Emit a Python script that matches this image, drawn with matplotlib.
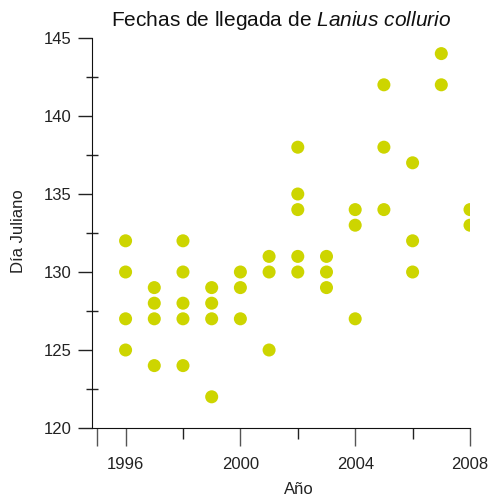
import matplotlib
matplotlib.use("Agg")
import matplotlib.pyplot as plt
from matplotlib.ticker import FixedLocator, FixedFormatter

# ------------------ datos ------------------
anios = [1996, 1996, 1996, 1996,
         1997, 1997, 1997, 1997,
         1998, 1998, 1998, 1998, 1998,
         1999, 1999, 1999, 1999,
         2000, 2000, 2000,
         2001, 2001, 2001,
         2002, 2002, 2002, 2002, 2002,
         2003, 2003, 2003,
         2004, 2004, 2004,
         2005, 2005, 2005,
         2006, 2006, 2006,
         2007, 2007,
         2008, 2008]
dia_juliano = [132, 130, 127, 125,
               129, 128, 127, 124,
               132, 130, 128, 127, 124,
               129, 128, 127, 122,
               130, 129, 127,
               131, 130, 125,
               138, 135, 134, 131, 130,
               131, 130, 129,
               134, 133, 127,
               142, 138, 134,
               137, 132, 130,
               144, 142,
               134, 133]

x_mayores = [1995, 1996, 2000, 2004, 2008]
x_etiquetas = ["", "1996", "2000", "2004", "2008"]
x_menores = [1998, 2002, 2006]
y_mayores = [120, 125, 130, 135, 140, 145]
y_menores = [122.5, 127.5, 132.5, 137.5, 142.5]

COLOR_PUNTO = "#cdd500"
# ---------------------------------------------------------------

plt.rcParams["font.family"] = ["Liberation Sans", "DejaVu Sans"]
plt.rcParams["mathtext.fontset"] = "custom"
plt.rcParams["mathtext.rm"] = "Liberation Sans"
plt.rcParams["mathtext.it"] = "Liberation Sans:italic"

W, H = 491, 496
fig = plt.figure(figsize=(W / 100, H / 100), dpi=100)
ax = fig.add_axes([92 / W, 1 - 428 / H, (470 - 92) / W, (428 - 38) / H])

ax.scatter(anios, dia_juliano, s=88, c=COLOR_PUNTO, edgecolors="none", zorder=3)

ax.set_xlim(1994.83, 2008)
ax.set_ylim(120, 145)

ax.spines["top"].set_visible(False)
ax.spines["right"].set_visible(False)
ax.spines["left"].set_color("#111111")
ax.spines["bottom"].set_color("#111111")

ax.xaxis.set_major_locator(FixedLocator(x_mayores))
ax.xaxis.set_major_formatter(FixedFormatter(x_etiquetas))
ax.xaxis.set_minor_locator(FixedLocator(x_menores))
ax.yaxis.set_major_locator(FixedLocator(y_mayores))
ax.yaxis.set_minor_locator(FixedLocator(y_menores))

ax.tick_params(axis="x", which="major", direction="out", length=13, width=1,
               color="#555555", labelsize=12, pad=8, labelcolor="#222222")
ax.tick_params(axis="x", which="minor", direction="out", length=8, width=1,
               color="#222222")
ax.tick_params(axis="y", which="major", direction="out", length=10, width=1,
               color="#222222", labelsize=12, pad=5, labelcolor="#222222")
ax.tick_params(axis="y", which="minor", direction="inout", length=8, width=1,
               color="#222222")

ax.set_xlabel("Año", fontsize=12, color="#222222")
ax.set_ylabel("Día Juliano", fontsize=12, color="#222222")
ax.xaxis.set_label_coords(0.548, -0.138)
ax.yaxis.set_label_coords(-0.174, 0.505)

ax.set_title(r"Fechas de llegada de $\it{Lanius\ collurio}$", fontsize=15,
             color="#111111", pad=9)

fig.savefig("out.png", dpi=100)
